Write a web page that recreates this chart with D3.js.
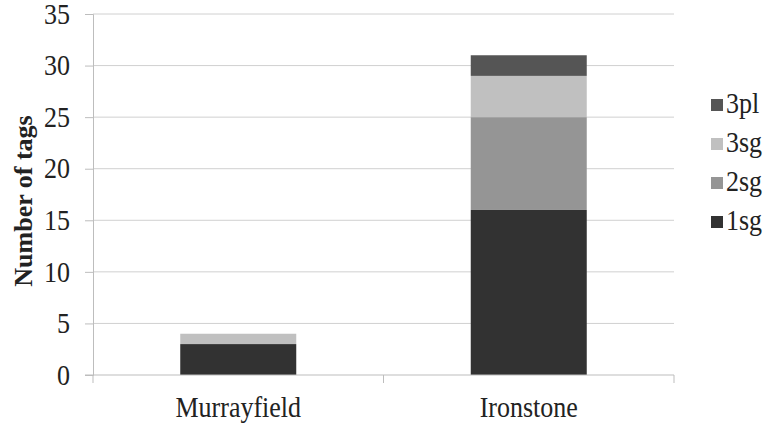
<!DOCTYPE html>
<html><head><meta charset="utf-8">
<script src="https://cdn.jsdelivr.net/npm/d3@7"></script>
<style>body{margin:0;background:#fff}svg{display:block}text{font-family:"Liberation Serif","Times New Roman",serif}</style>
</head><body><svg id="c" width="770" height="425"></svg>
<script>
const categories = ["Murrayfield", "Ironstone"];
const seriesNames = ["1sg", "2sg", "3sg", "3pl"];
const s1sg = [3, 16];
const s2sg = [0, 9];
const s3sg = [1, 4];
const s3pl = [0, 2];
const yTicks = [0, 5, 10, 15, 20, 25, 30, 35];
const colors = ["#323232", "#959595", "#c0c0c0", "#555555"];

const rows = categories.map((c, i) => ({cat: c, "1sg": s1sg[i], "2sg": s2sg[i], "3sg": s3sg[i], "3pl": s3pl[i]}));
const stack = d3.stack().keys(seriesNames)(rows);

const svg = d3.select("#c");
const L = 93, R = 674, T = 14, B = 375;
const FS = 26, SY = 1.1;
const x = d3.scaleBand().domain(categories).range([L, R]).paddingInner(0).paddingOuter(0);
const y = d3.scaleLinear().domain([0, 35]).range([B, T]);
const color = d3.scaleOrdinal().domain(seriesNames).range(colors);

// gridlines
svg.append("g").selectAll("line").data(yTicks.filter(t => t > 0)).join("line")
  .attr("x1", L).attr("x2", R).attr("y1", d => y(d)).attr("y2", d => y(d))
  .attr("stroke", "#d0d0d0").attr("stroke-width", 1);

// y axis
const ya = svg.append("g").attr("transform", `translate(${L},0)`)
  .call(d3.axisLeft(y).tickValues(yTicks).tickSize(8).tickPadding(15));
ya.select(".domain").attr("stroke", "#bdbdbd");
ya.selectAll(".tick line").attr("stroke", "#bdbdbd");
ya.selectAll(".tick text").attr("font-size", FS).attr("fill", "#222")
  .attr("transform", `scale(1,${SY})`);

// bars
const bw = 116;
svg.append("g").selectAll("g").data(stack).join("g")
  .attr("fill", d => color(d.key))
  .selectAll("rect").data(d => d).join("rect")
  .attr("x", d => x(d.data.cat) + x.bandwidth() / 2 - bw / 2)
  .attr("width", bw)
  .attr("y", d => y(d[1]))
  .attr("height", d => y(d[0]) - y(d[1]));

// x axis
const xa = svg.append("g").attr("transform", `translate(0,${B})`);
xa.append("line").attr("x1", 85).attr("x2", R).attr("y1", 0).attr("y2", 0).attr("stroke", "#bdbdbd");
const xTickPos = [L, ...categories.slice(1).map(c => x(c)), R];
xa.selectAll("line.t").data(xTickPos).join("line").attr("class", "t")
  .attr("x1", d => d).attr("x2", d => d).attr("y1", 0).attr("y2", 8).attr("stroke", "#bdbdbd");
xa.selectAll("text").data(categories).join("text")
  .attr("transform", d => `translate(${x(d) + x.bandwidth() / 2},42) scale(1,${SY})`)
  .attr("text-anchor", "middle").attr("font-size", FS).attr("fill", "#222").text(d => d);

// y title
svg.append("text").attr("transform", "translate(32,201) rotate(-90)")
  .attr("text-anchor", "middle").attr("font-size", FS).attr("font-weight", "bold").attr("fill", "#222")
  .text("Number of tags");

// legend
const legendOrder = ["3pl", "3sg", "2sg", "1sg"];
const lg = svg.append("g").selectAll("g").data(legendOrder).join("g")
  .attr("transform", (d, i) => `translate(711,${105 + i * 39})`);
lg.append("rect").attr("x", 0).attr("y", -6).attr("width", 12).attr("height", 12).attr("fill", d => color(d));
lg.append("text").attr("transform", `translate(15,8) scale(1,${SY})`)
  .attr("font-size", FS).attr("fill", "#222").text(d => d);
</script></body></html>
